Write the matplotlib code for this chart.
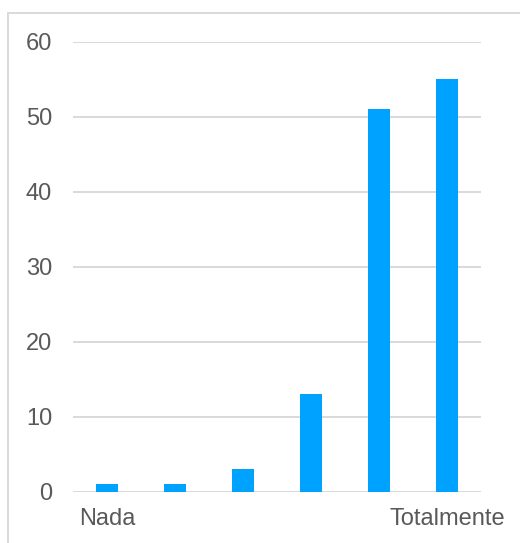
import matplotlib.pyplot as plt
from matplotlib.patches import Rectangle

# responses per level, from "Nada" to "Totalmente"
levels = ['Nada', '', '', '', '', 'Totalmente']
counts = [1, 1, 3, 13, 51, 55]
yticks = [0, 10, 20, 30, 40, 50, 60]

plt.rcParams['font.family'] = ['Liberation Sans', 'DejaVu Sans']

fig = plt.figure(figsize=(5.2, 5.43), dpi=100)
ax = fig.add_axes([73 / 520, 51.3 / 543, 408 / 520, 450 / 543])

x = range(len(counts))
ax.bar(x, counts, width=0.31, color='#00A2FF', zorder=3)

ax.set_xlim(-0.5, len(counts) - 0.5)
ax.set_ylim(0, 60)
ax.set_yticks(yticks)
ax.set_xticks(list(x))
ax.set_xticklabels(levels)

ax.grid(axis='y', color='#D9D9D9', linewidth=1.4, zorder=0)
for s in ax.spines.values():
    s.set_visible(False)
ax.tick_params(axis='both', length=0, labelsize=17, labelcolor='#595959')
ax.tick_params(axis='y', pad=15)
ax.tick_params(axis='x', pad=12)

# light frame around the chart area
fig.patches.append(Rectangle((8 / 520, -0.05), 1.2, (543 - 12.5) / 543 + 0.05,
                             transform=fig.transFigure, fill=False,
                             edgecolor='#D9D9D9', linewidth=1.4))

fig.savefig('out.png', dpi=100)
